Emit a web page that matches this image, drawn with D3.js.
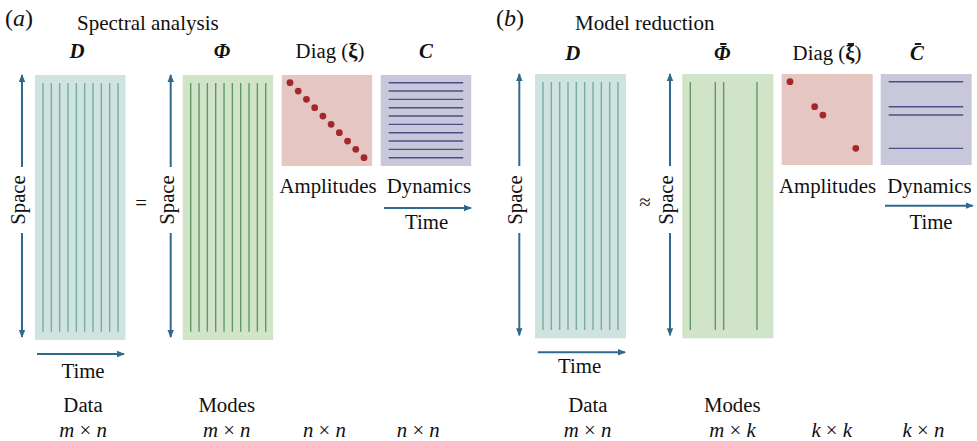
<!DOCTYPE html>
<html>
<head>
<meta charset="utf-8">
<style>
  body { margin: 0; background: #fff; }
  svg text { font-family: "Liberation Serif", "Tinos", "Times New Roman", "DejaVu Serif", serif; fill: #111; font-size: 20.8px; }
</style>
<title>Spectral analysis / model reduction</title>
</head>
<body>
<script src="https://cdn.jsdelivr.net/npm/d3@7"></script>
<script>

// data //////////////////////////////////////////////////////////////////////

const panelLetters = ["a", "b"];
const panelTitles  = ["Spectral analysis", "Model reduction"];
const relationSigns = ["=", "\u2248"];

const timeSteps  = [0, 1, 2, 3, 4, 5, 6, 7, 8, 9];            // n snapshots
const keptModes  = [[0, 1, 2, 3, 4, 5, 6, 7, 8, 9], [0, 3, 4, 8]];

const matrixSymbols = [["D", "\u03A6", "\u03BE", "C"], ["D", "\u03A6", "\u03BE", "C"]];
const overbars = [[false, false, false, false], [false, true, true, true]];
const roleLabels = ["Data", "Modes", "Amplitudes", "Dynamics"];
const sizeLabels = [
	[["m", "n"], ["m", "n"], ["n", "n"], ["n", "n"]],
	[["m", "n"], ["m", "k"], ["k", "k"], ["k", "n"]],
];

// layout ////////////////////////////////////////////////////////////////////

const layout = [
	{ top: 75, bottom: 340, sqBottom: 166, mats: [35, 182.7, 281.7, 380.7], mw: 90.5,
	  letterX: 5, titleX: 77, headY: 57.5, headX: [77, 222, 330, 426],
	  roleX: [83, 226.7, 328, 429], sizeX: [83, 226.7, 324.5, 418.3],
	  spaceX: [22, 170.7], sign: [141, 202],
	  timeD: { x1: 37, x2: 124, y: 354, tx: 83, ty: 378 },
	  timeC: { x1: 384, x2: 471, y: 208, tx: 426.7, ty: 229 } },
	{ top: 74, bottom: 338.3, sqBottom: 165, mats: [535, 682.3, 781.7, 880.7], mw: 91,
	  letterX: 496, titleX: 575, headY: 59.5, headX: [572.7, 722.3, 827, 917],
	  roleX: [587.8, 732.3, 827.5, 929.5], sizeX: [587.5, 732.5, 831.7, 923.5],
	  spaceX: [519.3, 670], sign: [645, 201],
	  timeD: { x1: 537.7, x2: 625, y: 352.3, tx: 579.7, ty: 372.7 },
	  timeC: { x1: 885, x2: 972.7, y: 205.7, tx: 931, ty: 229 } },
];

const fills   = ["#cfe3df", "#d2e4c8", "#e5c6c2", "#c9c8da"];
const strokes = ["#78aba6", "#5f9968", "#a3282b", "#4b4f87"];
const arrowColor = "#2f6a8d";

const svg = d3.select("body").append("svg")
	.attr("width", 977)
	.attr("height", 441);

svg.append("defs").append("marker")
	.attr("id", "head")
	.attr("viewBox", "0 -4 8 8")
	.attr("refX", 7).attr("refY", 0)
	.attr("markerWidth", 8).attr("markerHeight", 8)
	.attr("markerUnits", "userSpaceOnUse")
	.attr("orient", "auto")
  .append("path")
	.attr("d", "M0,-3.2L8,0L0,3.2Z")
	.attr("fill", arrowColor);

function arrow(g, x1, y1, x2, y2) {
	g.append("line")
		.attr("x1", x1).attr("y1", y1)
		.attr("x2", x2).attr("y2", y2)
		.attr("stroke", arrowColor)
		.attr("stroke-width", 2)
		.attr("marker-end", "url(#head)");
}

// bar over a symbol (text or tspan holding just that symbol)
function overbar(g, el, baseY) {
	const n = el.node();
	const x0 = n.getStartPositionOfChar(0).x;
	const cx = x0 + n.getComputedTextLength() / 2 + 1;
	g.append("line")
		.attr("x1", cx - 3.2).attr("x2", cx + 3.2)
		.attr("y1", baseY - 15.5).attr("y2", baseY - 15.5)
		.attr("stroke", "#111")
		.attr("stroke-width", 1.9);
}

// panels ////////////////////////////////////////////////////////////////////

panelLetters.forEach((letter, p) => {
	const L = layout[p];
	const g = svg.append("g");

	// header
	const lt = g.append("text").attr("x", L.letterX).attr("y", 26).style("font-size", "24px");
	lt.append("tspan").text("(");
	lt.append("tspan").style("font-style", "italic").text(letter);
	lt.append("tspan").text(")");

	g.append("text").attr("x", L.titleX).attr("y", 29.5).style("font-size", "21px").text(panelTitles[p]);

	const syms = matrixSymbols[p];
	[0, 1, 3].forEach(i => {
		const t = g.append("text")
			.attr("x", L.headX[i]).attr("y", L.headY)
			.attr("text-anchor", "middle")
			.style("font-weight", "bold").style("font-style", "italic")
			.text(syms[i]);
		if (overbars[p][i]) overbar(g, t, L.headY);
	});
	const dg = g.append("text").attr("x", L.headX[2]).attr("y", L.headY).attr("text-anchor", "middle");
	dg.append("tspan").text("Diag (");
	const xi = dg.append("tspan").style("font-weight", "bold").text(syms[2]);
	dg.append("tspan").text(")");
	if (overbars[p][2]) overbar(g, xi, L.headY);

	// tall matrices: D and Phi
	[0, 1].forEach(i => {
		const mx = L.mats[i];
		const x = d3.scaleLinear().domain([0, 9]).range([mx + 8, mx + 83]);
		g.append("rect")
			.attr("x", mx).attr("y", L.top)
			.attr("width", L.mw).attr("height", L.bottom - L.top)
			.attr("fill", fills[i]);
		const cols = i === 0 ? timeSteps : keptModes[p];
		g.selectAll(null).data(cols).join("line")
			.attr("x1", d => x(d)).attr("x2", d => x(d))
			.attr("y1", L.top + 8).attr("y2", L.bottom - 8.3)
			.attr("stroke", strokes[i])
			.attr("stroke-width", 1.4);

		// space arrows + label
		const ax = L.spaceX[i];
		arrow(g, ax, L.top + 92, ax, L.top);
		arrow(g, ax, 233, ax, L.bottom - 3);
		g.append("text")
			.attr("transform", `translate(${ax + 3},200) rotate(-90)`)
			.attr("text-anchor", "middle")
			.text("Space");
	});

	// amplitude diagonal
	{
		const mx = L.mats[2];
		const x = d3.scaleLinear().domain([0, 9]).range([mx + 8.3, mx + 82.3]);
		const y = d3.scaleLinear().domain([0, 9]).range([L.top + 7.7, L.top + 82.7]);
		g.append("rect")
			.attr("x", mx).attr("y", L.top)
			.attr("width", L.mw).attr("height", L.sqBottom - L.top)
			.attr("fill", fills[2]);
		g.selectAll(null).data(keptModes[p]).join("circle")
			.attr("cx", d => x(d)).attr("cy", d => y(d))
			.attr("r", 3.4)
			.attr("fill", strokes[2]);
	}

	// dynamics
	{
		const mx = L.mats[3];
		const y = d3.scaleLinear().domain([0, 9]).range([L.top + 7.7, L.top + 82.7]);
		g.append("rect")
			.attr("x", mx).attr("y", L.top)
			.attr("width", L.mw).attr("height", L.sqBottom - L.top)
			.attr("fill", fills[3]);
		g.selectAll(null).data(keptModes[p]).join("line")
			.attr("x1", mx + 8).attr("x2", mx + 82.5)
			.attr("y1", d => y(d)).attr("y2", d => y(d))
			.attr("stroke", strokes[3])
			.attr("stroke-width", 1.4);
	}

	// relation sign
	g.append("text")
		.attr("x", L.sign[0]).attr("y", L.sign[1])
		.attr("text-anchor", "middle")
		.attr("dominant-baseline", "central")
		.text(relationSigns[p]);

	// time arrows
	arrow(g, L.timeD.x1, L.timeD.y, L.timeD.x2, L.timeD.y);
	g.append("text").attr("x", L.timeD.tx).attr("y", L.timeD.ty).attr("text-anchor", "middle").text("Time");
	arrow(g, L.timeC.x1, L.timeC.y, L.timeC.x2, L.timeC.y);
	g.append("text").attr("x", L.timeC.tx).attr("y", L.timeC.ty).attr("text-anchor", "middle").text("Time");

	// roles + sizes
	roleLabels.forEach((r, i) => {
		g.append("text")
			.attr("x", L.roleX[i]).attr("y", i < 2 ? 411.5 : 193)
			.attr("text-anchor", "middle")
			.text(r);
		const s = sizeLabels[p][i];
		const t = g.append("text")
			.attr("x", L.sizeX[i]).attr("y", 436.5)
			.attr("text-anchor", "middle");
		t.append("tspan").style("font-style", "italic").text(s[0]);
		t.append("tspan").text(" \u00D7 ");
		t.append("tspan").style("font-style", "italic").text(s[1]);
	});
});

</script>
</body>
</html>
